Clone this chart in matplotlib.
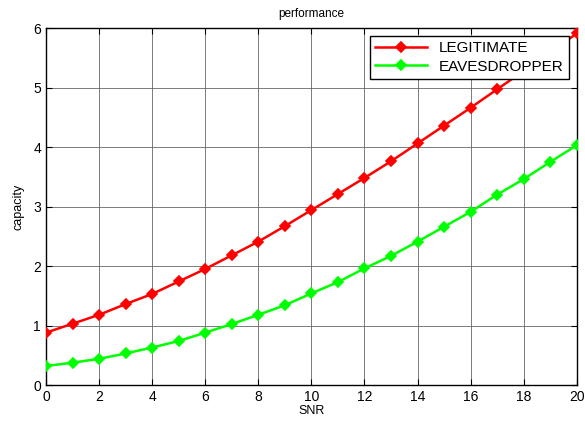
import numpy as np
import matplotlib.pyplot as plt

plt.rcParams['font.family'] = ['Liberation Sans', 'DejaVu Sans']

snr = np.arange(0, 21)
legit = [0.88, 1.03, 1.18, 1.36, 1.53, 1.74, 1.95, 2.18, 2.41, 2.67, 2.94,
         3.21, 3.48, 3.76, 4.06, 4.36, 4.66, 4.97, 5.28, 5.59, 5.91]
eaves = [0.32, 0.375, 0.44, 0.53, 0.63, 0.74, 0.88, 1.025, 1.18, 1.34, 1.54,
         1.73, 1.96, 2.17, 2.41, 2.66, 2.91, 3.20, 3.46, 3.75, 4.03]

fig = plt.figure(figsize=(5.85, 4.23), dpi=100)
ax = fig.add_axes([0.0786, 0.0898, 0.9074, 0.844])

ax.plot(snr, legit, '-', color='red', lw=1.8, marker='D', markersize=5,
        markeredgewidth=1.2, label='LEGITIMATE', zorder=3)
ax.plot(snr, eaves, '-', color='#00ff00', lw=1.8, marker='D', markersize=5,
        markeredgewidth=1.2, label='EAVESDROPPER', zorder=3)

ax.set_xlim(0, 20)
ax.set_ylim(0, 6)
ax.set_xticks(np.arange(0, 21, 2))
ax.set_yticks(np.arange(0, 7, 1))
ax.grid(True, color='0.4', lw=0.6)
ax.tick_params(direction='in', length=4, labelsize=10, top=True, right=True)
for s in ax.spines.values():
    s.set_linewidth(1)

ax.set_xlabel('SNR', fontsize=9, labelpad=1)
ax.set_ylabel('capacity', fontsize=9, labelpad=6)
ax.set_title('performance', fontsize=8.5, pad=8)

leg = ax.legend(loc='upper right', fontsize=11, fancybox=False, framealpha=1,
                edgecolor='black', borderaxespad=0.5, handlelength=3.4,
                borderpad=0.35, labelspacing=0.3)
leg.get_frame().set_linewidth(1)
leg.set_zorder(5)

fig.savefig('out.png', dpi=100)
